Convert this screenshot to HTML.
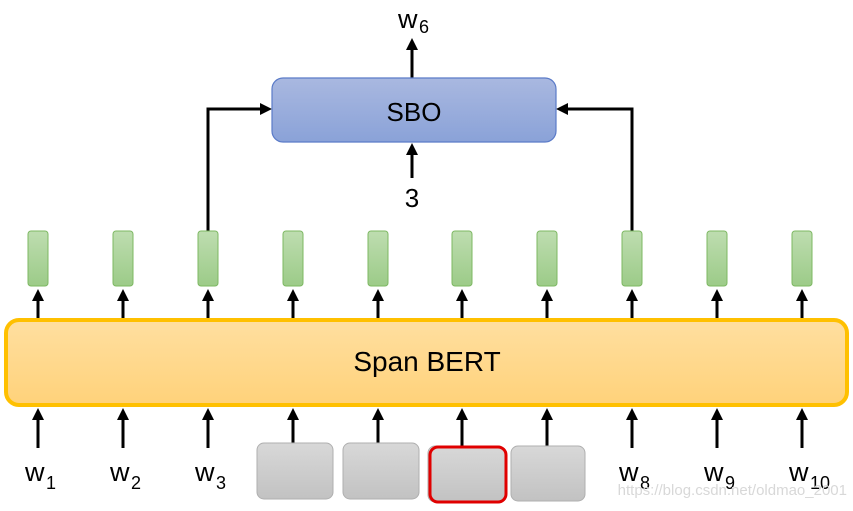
<!DOCTYPE html>
<html><head><meta charset="utf-8"><style>
html,body{margin:0;padding:0;background:#fff;}
svg{display:block;}
text{font-family:"Liberation Sans",sans-serif;fill:#000;}
</style></head><body>
<svg width="853" height="511" viewBox="0 0 853 511" xmlns="http://www.w3.org/2000/svg">
<defs>
<linearGradient id="gb" x1="0" y1="0" x2="0" y2="1"><stop offset="0" stop-color="#A9B8E0"/><stop offset="1" stop-color="#8AA2D8"/></linearGradient>
<linearGradient id="gy" x1="0" y1="0" x2="0" y2="1"><stop offset="0" stop-color="#FFDFA0"/><stop offset="1" stop-color="#FFD27A"/></linearGradient>
<linearGradient id="gg" x1="0" y1="0" x2="0" y2="1"><stop offset="0" stop-color="#BEDDB0"/><stop offset="1" stop-color="#9CCB88"/></linearGradient>
<linearGradient id="gr" x1="0" y1="0" x2="0" y2="1"><stop offset="0" stop-color="#D8D8D8"/><stop offset="1" stop-color="#C2C2C2"/></linearGradient>
<marker id="ah" markerWidth="12" markerHeight="12" refX="4" refY="6" orient="auto" markerUnits="userSpaceOnUse"><path d="M0,0 L12,6 L0,12 Z" fill="#000"/></marker>
</defs>
<g stroke="#000" stroke-width="3" fill="none">
<line x1="412" y1="78" x2="412" y2="46" marker-end="url(#ah)"/>
<line x1="412" y1="178" x2="412" y2="151" marker-end="url(#ah)"/>
<polyline points="208,231 208,109 264,109" marker-end="url(#ah)"/>
<polyline points="632,231 632,109 564,109" marker-end="url(#ah)"/>
</g>
<rect x="272" y="78" width="284" height="64" rx="11" fill="url(#gb)" stroke="#5B7BC8" stroke-width="1.2"/>
<text x="414" y="121" font-size="26" text-anchor="middle">SBO</text>
<text x="398" y="28" font-size="27">w</text><text x="419" y="33" font-size="18">6</text>
<text x="412" y="207" font-size="26" text-anchor="middle">3</text>
<g stroke="#000" stroke-width="3" fill="none">
<line x1="38" y1="319" x2="38" y2="297" marker-end="url(#ah)"/>
<line x1="123" y1="319" x2="123" y2="297" marker-end="url(#ah)"/>
<line x1="208" y1="319" x2="208" y2="297" marker-end="url(#ah)"/>
<line x1="293" y1="319" x2="293" y2="297" marker-end="url(#ah)"/>
<line x1="378" y1="319" x2="378" y2="297" marker-end="url(#ah)"/>
<line x1="462" y1="319" x2="462" y2="297" marker-end="url(#ah)"/>
<line x1="547" y1="319" x2="547" y2="297" marker-end="url(#ah)"/>
<line x1="632" y1="319" x2="632" y2="297" marker-end="url(#ah)"/>
<line x1="717" y1="319" x2="717" y2="297" marker-end="url(#ah)"/>
<line x1="802" y1="319" x2="802" y2="297" marker-end="url(#ah)"/>
</g>
<g fill="url(#gg)" stroke="#7DB862" stroke-width="1">
<rect x="28" y="231" width="20" height="55" rx="3"/>
<rect x="113" y="231" width="20" height="55" rx="3"/>
<rect x="198" y="231" width="20" height="55" rx="3"/>
<rect x="283" y="231" width="20" height="55" rx="3"/>
<rect x="368" y="231" width="20" height="55" rx="3"/>
<rect x="452" y="231" width="20" height="55" rx="3"/>
<rect x="537" y="231" width="20" height="55" rx="3"/>
<rect x="622" y="231" width="20" height="55" rx="3"/>
<rect x="707" y="231" width="20" height="55" rx="3"/>
<rect x="792" y="231" width="20" height="55" rx="3"/>
</g>
<rect x="6" y="320" width="841" height="85" rx="13" fill="url(#gy)" stroke="#FFC000" stroke-width="4"/>
<text x="427" y="371" font-size="28" text-anchor="middle">Span BERT</text>
<g stroke="#000" stroke-width="3" fill="none">
<line x1="38" y1="448" x2="38" y2="416" marker-end="url(#ah)"/>
<line x1="123" y1="448" x2="123" y2="416" marker-end="url(#ah)"/>
<line x1="208" y1="448" x2="208" y2="416" marker-end="url(#ah)"/>
<line x1="293" y1="443" x2="293" y2="416" marker-end="url(#ah)"/>
<line x1="378" y1="443" x2="378" y2="416" marker-end="url(#ah)"/>
<line x1="462" y1="446" x2="462" y2="416" marker-end="url(#ah)"/>
<line x1="547" y1="446" x2="547" y2="416" marker-end="url(#ah)"/>
<line x1="632" y1="448" x2="632" y2="416" marker-end="url(#ah)"/>
<line x1="717" y1="448" x2="717" y2="416" marker-end="url(#ah)"/>
<line x1="802" y1="448" x2="802" y2="416" marker-end="url(#ah)"/>
</g>
<g fill="url(#gr)" stroke="#AFAFAF" stroke-width="1">
<rect x="257" y="443" width="76" height="56" rx="7"/>
<rect x="343" y="443" width="76" height="56" rx="7"/>
<rect x="428" y="446" width="77" height="56" rx="7"/>
<rect x="511" y="446" width="74" height="55" rx="7"/>
</g>
<rect x="430" y="447" width="76" height="55" rx="8" fill="none" stroke="#E00000" stroke-width="3"/>
<g font-size="27">
<text x="25" y="481">w</text><text x="46" y="489" font-size="18">1</text>
<text x="110" y="481">w</text><text x="131" y="489" font-size="18">2</text>
<text x="195" y="481">w</text><text x="216" y="489" font-size="18">3</text>
<text x="619" y="481">w</text><text x="640" y="489" font-size="18">8</text>
<text x="704" y="481">w</text><text x="725" y="489" font-size="18">9</text>
<text x="789" y="481">w</text><text x="810" y="489" font-size="18">10</text>
</g>
<text x="847" y="495" font-size="15" text-anchor="end" style="fill:#d8d8d8">https://blog.csdn.net/oldmao_2001</text>
</svg>
</body></html>
